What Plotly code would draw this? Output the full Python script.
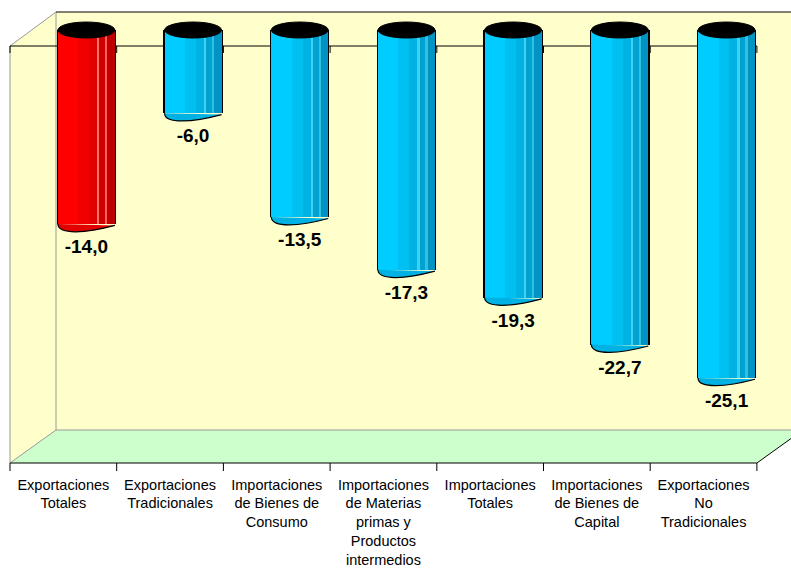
import plotly.graph_objects as go

# ---------------- data ----------------
categories = [
    "Exportaciones<br>Totales",
    "Exportaciones<br>Tradicionales",
    "Importaciones<br>de Bienes de<br>Consumo",
    "Importaciones<br>de Materias<br>primas y<br>Productos<br>intermedios",
    "Importaciones<br>Totales",
    "Importaciones<br>de Bienes de<br>Capital",
    "Exportaciones<br>No<br>Tradicionales",
]
values = [-14.0, -6.0, -13.5, -17.3, -19.3, -22.7, -25.1]
highlight = [True, False, False, False, False, False, False]

# ---------------- geometry (pixels) ----------------
W, H = 791, 570
L, R, T, B = 10, 791, 12, 463
PX_CAT = 106.7        # pixels per category
PX_UNIT = 13.86       # pixels per value unit
ZERO_PY = 30          # pixel row of value 0 (cylinder tops)
DEPTH_DX, DEPTH_DY = 46, 33
SHIFT = 23 / PX_CAT   # cylinders sit half way into the depth
BW = 57 / PX_CAT      # cylinder width in category units

xr = [-0.5, -0.5 + (R - L) / PX_CAT]
yr = [(ZERO_PY - B) / PX_UNIT, (ZERO_PY - T) / PX_UNIT]


def px(xp):
    return (xp - L) / (R - L)


def py(yp):
    return (B - yp) / (B - T)


def ppath(points):
    return "M " + " L ".join(f"{px(a):.5f},{py(b):.5f}" for a, b in points) + " Z"


shapes = []
YEL, GRN, GREY = "#FFFFCC", "#CCFFCC", "#999999"
fx0, fx1 = L, L + 7 * PX_CAT          # front edges
bx0 = fx0 + DEPTH_DX                  # back left
ftop, fbot = ZERO_PY + 16, B          # front top / bottom rows
btop, bbot = T, B - DEPTH_DY

# walls
shapes.append(dict(type="path", path=ppath([(bx0, btop), (R, btop), (R, bbot), (bx0, bbot)]),
                   xref="paper", yref="paper", fillcolor=YEL, line=dict(width=0), layer="below"))
shapes.append(dict(type="path", path=ppath([(fx0, ftop), (bx0, btop), (bx0, bbot), (fx0, fbot)]),
                   xref="paper", yref="paper", fillcolor=YEL, line=dict(width=0), layer="below"))
shapes.append(dict(type="path",
                   path=ppath([(fx0, fbot), (bx0, bbot), (R, bbot), (R, fbot - (R - fx1) * DEPTH_DY / DEPTH_DX), (fx1, fbot)]),
                   xref="paper", yref="paper", fillcolor=GRN, line=dict(width=0), layer="below"))


def seg(a, b, c, d, color, w=1):
    shapes.append(dict(type="line", xref="paper", yref="paper",
                       x0=px(a), y0=py(b), x1=px(c), y1=py(d),
                       line=dict(color=color, width=w), layer="below"))


seg(fx0, ftop, bx0, btop, GREY)
seg(bx0, btop, bx0, bbot, GREY)
seg(fx0, ftop, fx0, fbot, GREY)
seg(bx0, bbot, R, bbot, GREY)
seg(fx0, fbot, bx0, bbot, GREY)
seg(bx0, btop, R, btop, "black")
seg(fx0, ftop, fx1, ftop, "black")
seg(fx0, fbot, fx1, fbot, "black")
seg(fx1, fbot, R, fbot - (R - fx1) * DEPTH_DY / DEPTH_DX, "black")
for k in range(len(categories) + 1):
    xk = fx0 + k * PX_CAT
    seg(xk, ftop, xk, ftop + 7, "black")
    seg(xk, fbot, xk, fbot + 8, "black")

# ---------------- cylinders ----------------
xs = [i + SHIFT for i in range(len(values))]
stripes = [  # (start frac, end frac, red colour, blue colour)
    (0.00, 0.36, "#FF0000", "#00CCFF"),
    (0.36, 0.55, "#F00000", "#00C0F2"),
    (0.55, 0.70, "#E00000", "#00B2E4"),
    (0.70, 0.73, "#FF7070", "#40D0F0"),
    (0.73, 0.84, "#D00000", "#00A2D2"),
    (0.84, 0.87, "#FF6060", "#30C0E0"),
    (0.87, 1.00, "#C00000", "#0094C4"),
]
fig = go.Figure()
edge = 1.2 / PX_CAT
fig.add_trace(go.Bar(x=xs, y=values, width=BW + 2 * edge, offset=-BW / 2 - edge,
                     marker=dict(color="black", line=dict(width=0)), hoverinfo="skip",
                     showlegend=False))
for a, b, cr, cb in stripes:
    cols = [cr if h else cb for h in highlight]
    fig.add_trace(go.Bar(x=xs, y=values, width=BW * (b - a), offset=-BW / 2 + BW * a,
                         marker=dict(color=cols, line=dict(width=0)), hoverinfo="skip",
                         showlegend=False))

dip = 7 / PX_UNIT
top_h = 8 / PX_UNIT
for x, v, h in zip(xs, values, highlight):
    l, r = x - BW / 2, x + BW / 2
    shapes.append(dict(type="path", xref="x", yref="y",
                       path=f"M {l},{v} C {l},{v - 1.6 * dip} {x},{v - 1.3 * dip} {r},{v - 0.2 * dip}",
                       fillcolor="#E00000" if h else "#00B2E4",
                       line=dict(color="black", width=1.2), layer="above"))
    shapes.append(dict(type="circle", xref="x", yref="y", x0=l, x1=r, y0=-top_h, y1=top_h,
                       fillcolor="black", line=dict(color="black", width=1), layer="above"))

labels = [f"{v:.1f}".replace(".", ",") for v in values]
fig.add_trace(go.Scatter(x=xs, y=values, mode="markers+text", text=labels,
                         textposition="bottom center",
                         marker=dict(size=22, opacity=0),
                         textfont=dict(family="Arial, Liberation Sans", size=19, color="black", weight="bold"),
                         hoverinfo="skip", showlegend=False, cliponaxis=False))

fig.update_layout(
    width=W, height=H,
    margin=dict(l=L, r=W - R, t=T, b=H - B),
    paper_bgcolor="white", plot_bgcolor="white",
    barmode="overlay", bargap=0,
    shapes=shapes,
    font=dict(family="Arial, Liberation Sans", size=14.5, color="black"),
    xaxis=dict(range=xr, tickvals=list(range(len(categories))), ticktext=categories,
               showgrid=False, zeroline=False, showline=False, ticks="",
               ticklabelstandoff=11, fixedrange=True),
    yaxis=dict(range=yr, visible=False, showgrid=False, zeroline=False, fixedrange=True),
)

fig.write_html("out.html", config={"displayModeBar": False},
               post_script="document.body.style.margin='0';document.body.style.overflow='hidden';")
